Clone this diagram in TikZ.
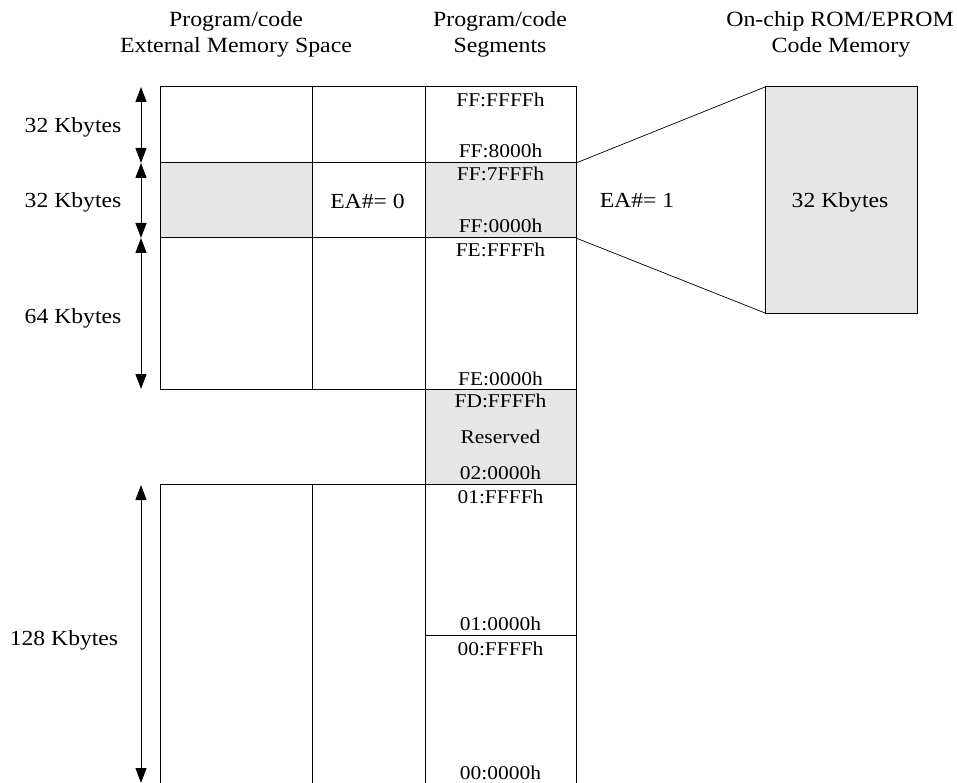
\documentclass[tikz,border=0pt]{standalone}
\usepackage{fontspec}
\setmainfont{Liberation Serif}
\usetikzlibrary{arrows.meta}
\definecolor{shade}{HTML}{E6E6E6}
\newcommand{\hs}[1]{\scalebox{1.1}[1]{#1}}
\tikzset{
  cell/.style={draw=black, line width=1pt, anchor=north west, inner sep=0pt, outer sep=0pt},
  grayfill/.style={fill=shade},
  hdr/.style={anchor=base, inner sep=0pt, font=\fontsize{21.7}{24}\selectfont},
  seglbl/.style={anchor=base, inner sep=0pt, font=\fontsize{19.5}{22}\selectfont},
  sizelbl/.style={anchor=base, inner sep=0pt, font=\fontsize{21.5}{24}\selectfont},
  dimarrow/.style={line width=1pt, {Triangle[length=15pt,width=11pt]}-{Triangle[length=15pt,width=11pt]}},
  thinline/.style={line width=0.7pt}
}
\begin{document}
\begin{tikzpicture}[x=1pt,y=-1pt]
\useasboundingbox (0,0) rectangle (957,783);
\clip (0,0) rectangle (957,783);
% headers
\node[hdr] (h1a) at (236,27) {\hs{Program/code}};
\node[hdr] (h1b) at (236,53) {\hs{External Memory Space}};
\node[hdr] (h2a) at (500,27) {\hs{Program/code}};
\node[hdr] (h2b) at (500,53) {\hs{Segments}};
\node[hdr] (h3a) at (840,27) {\hs{On-chip ROM/EPROM}};
\node[hdr] (h3b) at (841,53) {\hs{Code Memory}};
% upper external block
\node[cell, minimum width=152pt, minimum height=76pt] (c1) at (160,87) {};
\node[cell, minimum width=113pt, minimum height=76pt] (c2) at (312,87) {};
\node[cell, grayfill, minimum width=152pt, minimum height=75pt] (c3) at (160,163) {};
\node[cell, minimum width=113pt, minimum height=75pt] (c4) at (312,163) {};
\node[cell, minimum width=152pt, minimum height=151pt] (c5) at (160,238) {};
\node[cell, minimum width=113pt, minimum height=151pt] (c6) at (312,238) {};
% lower external block
\node[cell, minimum width=152pt, minimum height=305pt] (c7) at (160,484) {};
\node[cell, minimum width=113pt, minimum height=305pt] (c8) at (312,484) {};
% segments column
\node[cell, minimum width=151pt, minimum height=76pt] (s1) at (425,87) {};
\node[cell, grayfill, minimum width=151pt, minimum height=75pt] (s2) at (425,163) {};
\node[cell, minimum width=151pt, minimum height=151pt] (s3) at (425,238) {};
\node[cell, grayfill, minimum width=151pt, minimum height=95pt] (s4) at (425,389) {};
\node[cell, minimum width=151pt, minimum height=151pt] (s5) at (425,484) {};
\node[cell, minimum width=151pt, minimum height=154pt] (s6) at (425,635) {};
% ROM box
\node[cell, grayfill, minimum width=152pt, minimum height=226pt] (rom) at (765,87) {};
\draw[thinline] (s2.north east) -- (rom.north west);
\draw[thinline] (s2.south east) -- (rom.south west);
% segment labels
\node[seglbl] (l1) at (500.5,107) {\hs{FF:FFFFh}};
\node[seglbl] (l2) at (500.5,158) {\hs{FF:8000h}};
\node[seglbl] (l3) at (500.5,181) {\hs{FF:7FFFh}};
\node[seglbl] (l4) at (500.5,233) {\hs{FF:0000h}};
\node[seglbl] (l5) at (500.5,257) {\hs{FE:FFFFh}};
\node[seglbl] (l6) at (500.5,385) {\hs{FE:0000h}};
\node[seglbl] (l7) at (500.5,407) {\hs{FD:FFFFh}};
\node[seglbl] (l8) at (500.5,443) {\hs{Reserved}};
\node[seglbl] (l9) at (500.5,479) {\hs{02:0000h}};
\node[seglbl] (l10) at (500.5,503) {\hs{01:FFFFh}};
\node[seglbl] (l11) at (500.5,630) {\hs{01:0000h}};
\node[seglbl] (l12) at (500.5,655) {\hs{00:FFFFh}};
\node[seglbl] (l13) at (500.5,779) {\hs{00:0000h}};
% EA labels
\node[sizelbl] (ea0) at (367.5,209) {\hs{EA\#= 0}};
\node[sizelbl] (ea1) at (637,208) {\hs{EA\#= 1}};
\node[sizelbl] (romlbl) at (840,208) {\hs{32 Kbytes}};
% size labels
\node[sizelbl] (k1) at (73,133) {\hs{32 Kbytes}};
\node[sizelbl] (k2) at (73,208) {\hs{32 Kbytes}};
\node[sizelbl] (k3) at (73,323) {\hs{64 Kbytes}};
\node[sizelbl] (k4) at (64,645) {\hs{128 Kbytes}};
% dimension arrows
\coordinate (a0) at (141,87);
\coordinate (a1) at (141,163);
\coordinate (a2) at (141,238);
\coordinate (a3) at (141,389);
\coordinate (a4) at (141,485);
\coordinate (a5) at (141,783);
\draw[dimarrow] (a0) -- (a1);
\draw[dimarrow] (a1) -- (a2);
\draw[dimarrow] (a2) -- (a3);
\draw[dimarrow] (a4) -- (a5);
\end{tikzpicture}
\end{document}
